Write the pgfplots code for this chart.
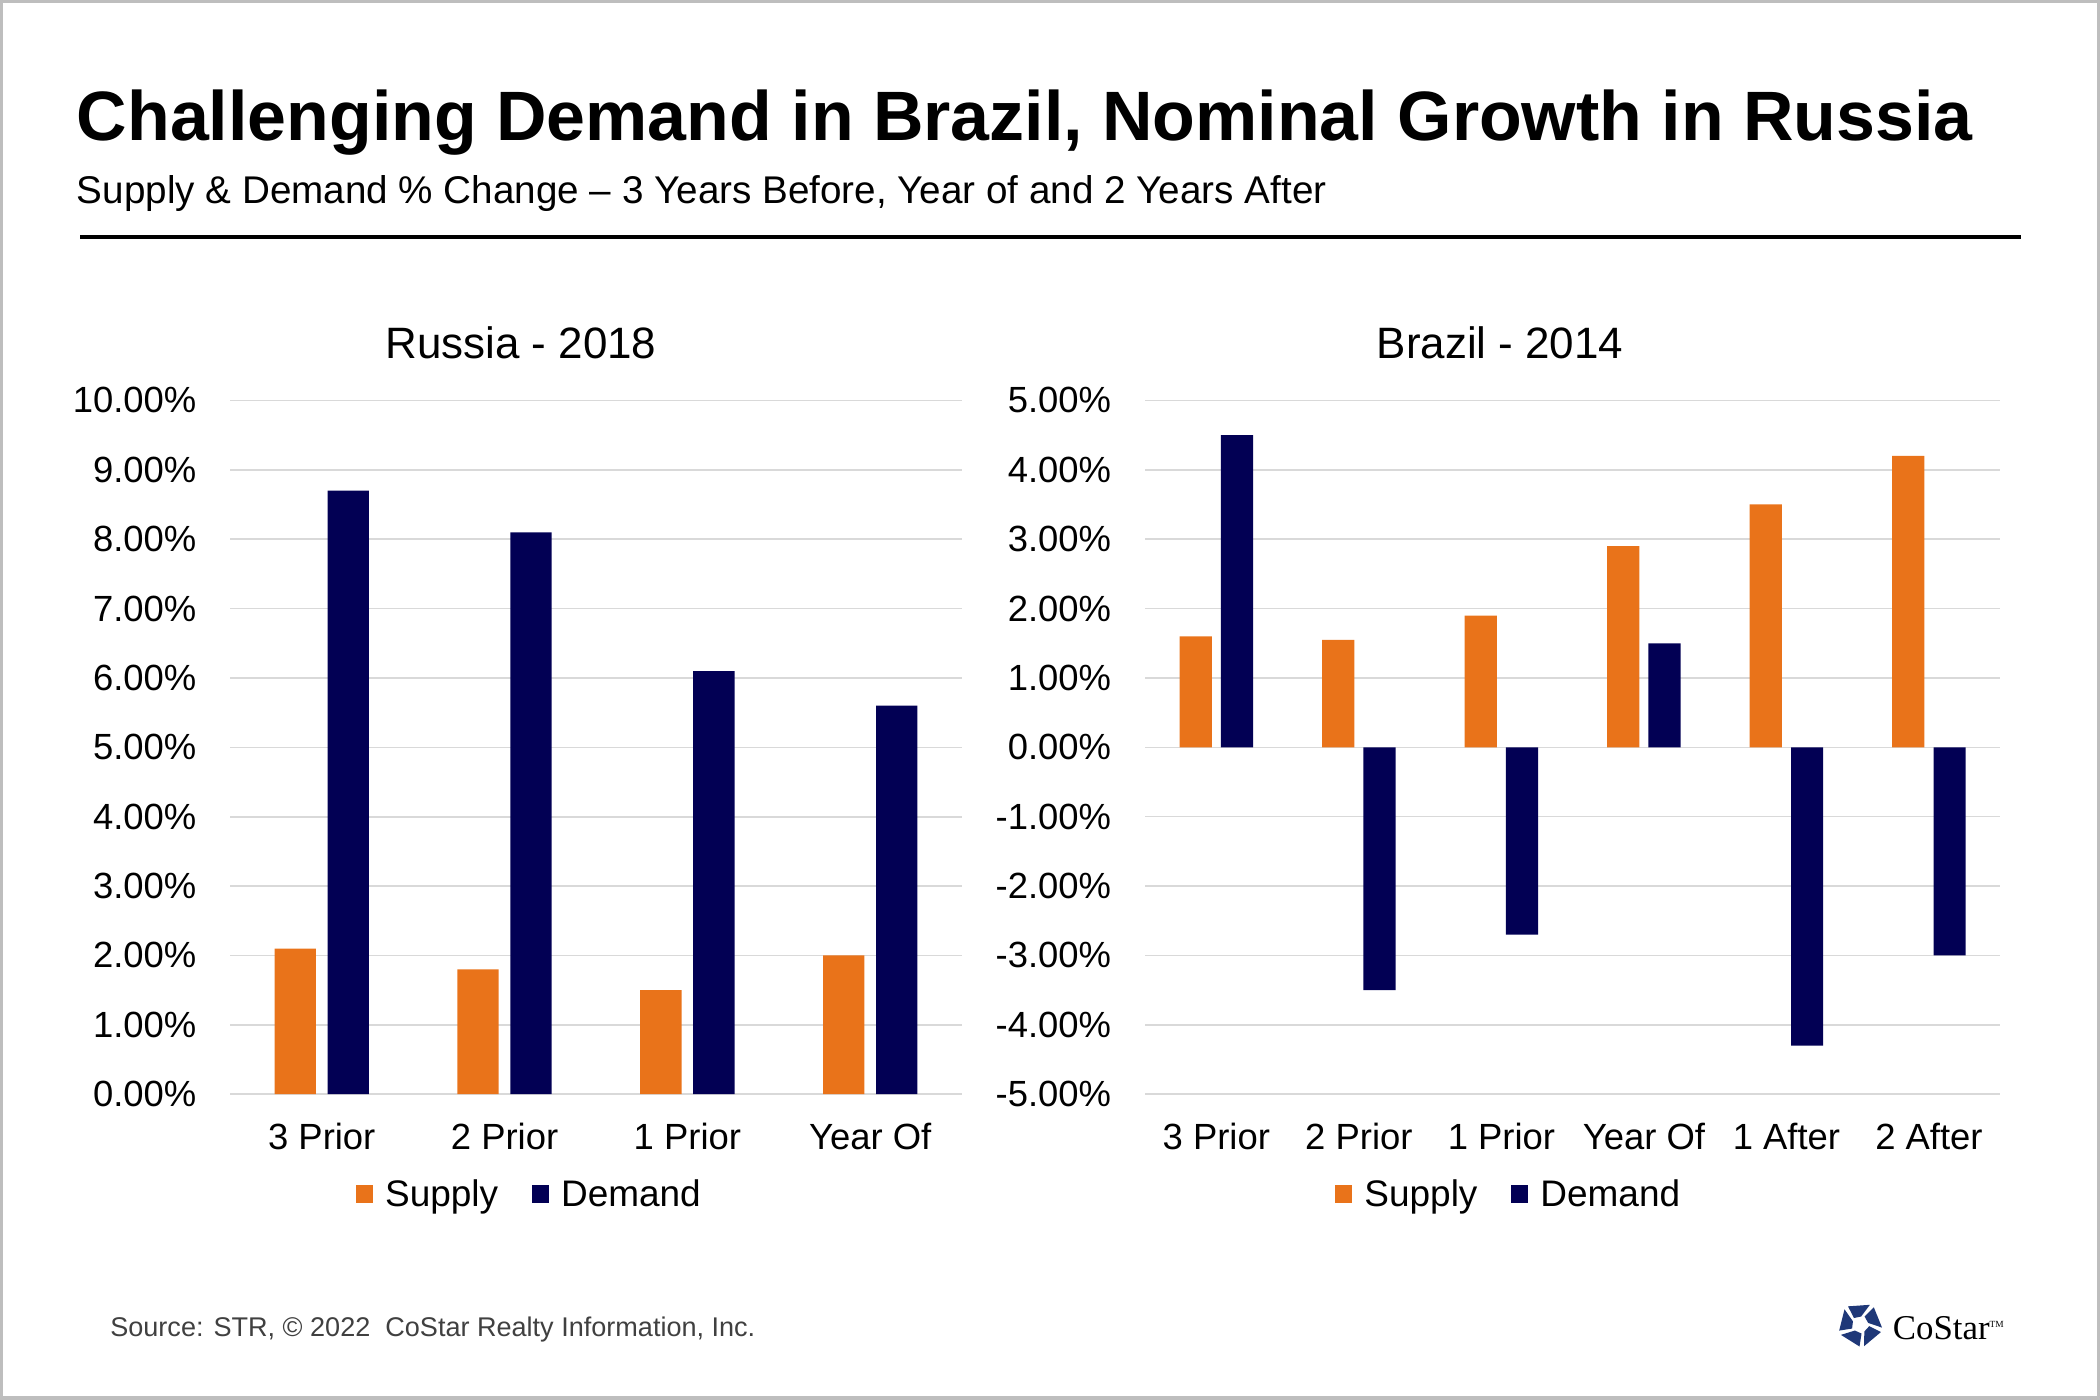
\documentclass[border=0pt]{standalone}
\usepackage{fontspec}
\setmainfont{Liberation Sans}
\newfontfamily\logofont{Liberation Serif}
\usepackage{pgfplots}
\pgfplotsset{compat=1.18}

\definecolor{supply}{RGB}{233,115,26}
\definecolor{demand}{RGB}{2,0,84}
\definecolor{gridgray}{RGB}{217,217,217}
\definecolor{framegray}{RGB}{190,190,190}
\definecolor{srcgray}{RGB}{64,64,64}
\definecolor{logoblue}{RGB}{31,56,120}

\newcommand{\tickfont}{\fontsize{13.6}{16}\selectfont}

\pgfplotsset{
  costar/.style={
    scale only axis, anchor=south west, height=259pt,
    axis line style={draw=none}, major tick length=0pt,
    ymajorgrids, grid style={line width=0.6pt, draw=gridgray},
    tick label style={font=\tickfont},
    yticklabel style={anchor=east, inner sep=0pt, xshift=-12.5pt},
    xticklabel style={anchor=base, inner sep=0pt, yshift=-20.7pt},
    legend columns=-1,
    legend style={draw=none, fill=none, font=\fontsize{13.8}{16}\selectfont, anchor=center,
      /tikz/every odd column/.append style={column sep=2.5pt},
      /tikz/every even column/.append style={column sep=10.5pt}},
    clip=false,
  },
  sbar/.style={ybar, bar width=0.226, bar shift=-0.145, fill=supply, draw=none,
    legend image code/.code={\fill[supply] (0pt,-3pt) rectangle (6.5pt,3.5pt);}},
  dbar/.style={ybar, bar width=0.226, bar shift=0.145, fill=demand, draw=none,
    legend image code/.code={\fill[demand] (0pt,-3pt) rectangle (6.5pt,3.5pt);}},
}

\begin{document}
\begin{tikzpicture}
\useasboundingbox (0pt,0pt) rectangle (784pt,522.5pt);
\draw[framegray, line width=1.2pt] (0.6pt,0.6pt) rectangle (783.4pt,521.9pt);

% headings
\node[anchor=base west, inner sep=0pt, font=\fontsize{26.1}{30}\selectfont\bfseries]
  at (28.5pt,470pt) {Challenging Demand in Brazil, Nominal Growth in Russia};
\node[anchor=base west, inner sep=0pt, font=\fontsize{14.42}{17}\selectfont]
  at (28.5pt,446.5pt) {Supply \& Demand \% Change -- 3 Years Before, Year of and 2 Years After};
\draw[line width=1.3pt] (30pt,434pt) -- (754.5pt,434pt);

\node[anchor=base, inner sep=0pt, font=\fontsize{16.4}{19}\selectfont] at (194.5pt,388.5pt) {Russia - 2018};
\node[anchor=base, inner sep=0pt, font=\fontsize{16.4}{19}\selectfont] at (560pt,388.5pt) {Brazil - 2014};

% Russia
\begin{axis}[costar, at={(86pt,114pt)}, width=273pt,
  xmin=-0.5, xmax=3.5, ymin=0, ymax=10,
  xtick={0,1,2,3}, xticklabels={3 Prior,2 Prior,1 Prior,Year Of},
  ytick={0,1,...,10},
  yticklabels={0.00\%,1.00\%,2.00\%,3.00\%,4.00\%,5.00\%,6.00\%,7.00\%,8.00\%,9.00\%,10.00\%},
  legend style={at={(0.411,-0.145)}},
]
\addplot[sbar] coordinates {(0,2.1) (1,1.8) (2,1.5) (3,2.0)};
\addlegendentry{Supply}
\addplot[dbar] coordinates {(0,8.7) (1,8.1) (2,6.1) (3,5.6)};
\addlegendentry{Demand}
\end{axis}

% Brazil
\begin{axis}[costar, at={(427.5pt,114pt)}, width=319.25pt,
  xmin=-0.5, xmax=5.5, ymin=-5, ymax=5,
  xtick={0,1,2,3,4,5}, xticklabels={3 Prior,2 Prior,1 Prior,Year Of,1 After,2 After},
  ytick={-5,-4,...,5},
  yticklabels={-5.00\%,-4.00\%,-3.00\%,-2.00\%,-1.00\%,0.00\%,1.00\%,2.00\%,3.00\%,4.00\%,5.00\%},
  legend style={at={(0.427,-0.145)}},
]
\addplot[sbar] coordinates {(0,1.6) (1,1.55) (2,1.9) (3,2.9) (4,3.5) (5,4.2)};
\addlegendentry{Supply}
\addplot[dbar] coordinates {(0,4.5) (1,-3.5) (2,-2.7) (3,1.5) (4,-4.3) (5,-3.0)};
\addlegendentry{Demand}
\end{axis}

% footer
\node[anchor=base west, inner sep=0pt, text=srcgray, font=\fontsize{10.1}{12}\selectfont]
  at (41pt,23.5pt) {Source: STR, \textcopyright{} 2022\ \ CoStar Realty Information, Inc.};

% logo
\begin{scope}[shift={(694.5pt,28pt)}]
\foreach \k in {0,...,4}{
  \pgfmathsetmacro{\t}{90+72*\k}
  \fill[logoblue] (\t-26:8.2pt) -- (\t+34:8.2pt) -- (\t+44:3.4pt) -- (\t-6:3pt) -- cycle;
}
\end{scope}
\node[anchor=base west, inner sep=0pt, font=\logofont\fontsize{13}{15}\selectfont]
  at (706.5pt,22.5pt) {CoStar\raisebox{4.5pt}{\fontsize{3.5}{4}\selectfont TM}};
\end{tikzpicture}
\end{document}
